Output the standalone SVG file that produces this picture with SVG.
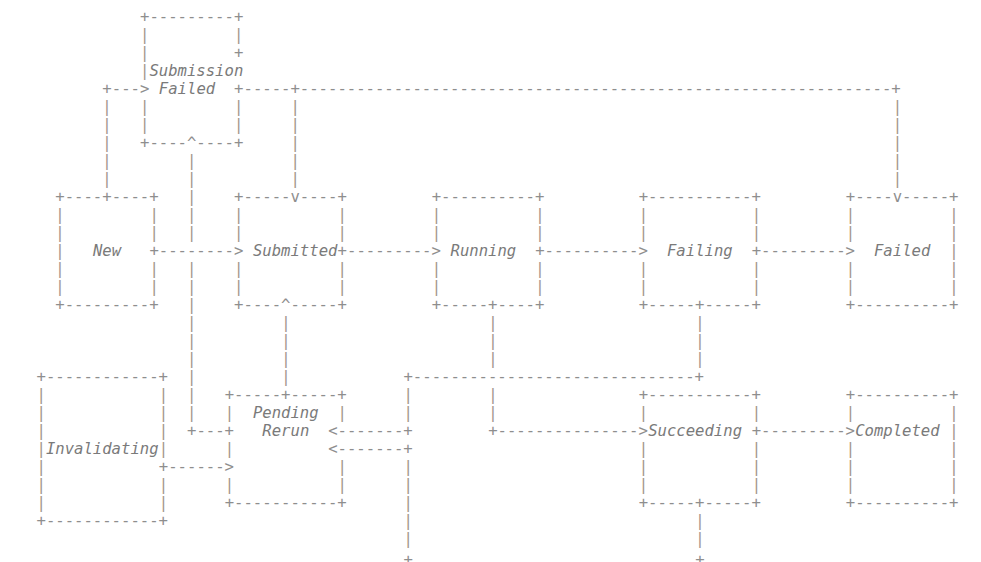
<svg xmlns="http://www.w3.org/2000/svg" width="981" height="562" viewBox="0 0 981 562">
<style>
text{font-family:"DejaVu Sans Mono","Liberation Mono",monospace;font-size:15.6px;white-space:pre}
.g{fill:#8e8e8e}
.p{fill:#a2968c}
.l{fill:#7a7a7a;font-style:italic}
</style>
<rect width="981" height="562" fill="#ffffff"/>
<g id="connectors">
<text class="g" x="102.37" y="93.8">+---&gt;</text>
<text class="g" x="234.11" y="93.8">+-----+---------------------------------------------------------------+</text>
<text class="p" x="102.37 290.57 892.81" y="111.8">|||</text>
<text class="p" x="102.37 290.57 892.81" y="129.8">|||</text>
<text class="p" x="102.37 290.57 892.81" y="147.8">|||</text>
<text class="p" x="102.37 187.06 290.57 892.81" y="165.8">||||</text>
<text class="p" x="102.37 187.06 290.57 892.81" y="183.8">||||</text>
<text class="p" x="187.06" y="201.8">|</text>
<text class="p" x="187.06" y="219.8">|</text>
<text class="p" x="187.06" y="237.8">|</text>
<text class="g" x="149.42" y="255.8">+--------&gt;</text>
<text class="g" x="337.62" y="255.8">+---------&gt;</text>
<text class="g" x="535.23" y="255.8">+----------&gt;</text>
<text class="g" x="751.66" y="255.8">+---------&gt;</text>
<text class="p" x="187.06" y="273.8">|</text>
<text class="p" x="187.06" y="291.8">|</text>
<text class="p" x="187.06" y="309.8">|</text>
<text class="p" x="187.06 281.16 488.18 695.2" y="327.8">||||</text>
<text class="p" x="187.06 281.16 488.18 695.2" y="345.8">||||</text>
<text class="p" x="187.06 281.16 488.18 695.2" y="363.8">||||</text>
<text class="p" x="187.06 281.16" y="381.8">||</text>
<text class="g" x="403.49" y="381.8">+------------------------------+</text>
<text class="p" x="187.06 403.49 488.18" y="399.8">|||</text>
<text class="p" x="187.06 403.49 488.18" y="417.8">|||</text>
<text class="g" x="187.06" y="435.8">+---+</text>
<text class="g" x="328.21" y="435.8">&lt;-------+</text>
<text class="g" x="488.18" y="435.8">+---------------&gt;</text>
<text class="g" x="751.66" y="435.8">+---------&gt;</text>
<text class="g" x="328.21" y="453.8">&lt;-------+</text>
<text class="g" x="158.83" y="471.8">+------&gt;</text>
<text class="p" x="403.49" y="471.8">|</text>
<text class="p" x="403.49" y="489.8">|</text>
<text class="p" x="403.49" y="507.8">|</text>
<text class="p" x="403.49 695.2" y="525.8">||</text>
<text class="p" x="403.49 695.2" y="543.8">||</text>
<text class="g" x="403.49 695.2" y="564.5">++</text>
</g>
<g id="submission-failed">
<text class="g" x="140.01" y="21.8">+---------+</text>
<text class="p" x="140.01 234.11" y="39.8">||</text>
<text class="p" x="140.01" y="57.8">|</text><text class="g" x="234.11" y="57.8">+</text>
<text class="p" x="140.01" y="75.8">|</text><text class="l" x="149.42" y="75.8">Submission</text>
<text class="l" x="158.83" y="93.8">Failed</text>
<text class="p" x="140.01 234.11" y="111.8">||</text>
<text class="p" x="140.01 234.11" y="129.8">||</text>
<text class="g" x="140.01" y="147.8">+----^----+</text>
</g>
<g id="new">
<text class="g" x="55.32" y="201.8">+----+----+</text>
<text class="p" x="55.32 149.42" y="219.8">||</text>
<text class="p" x="55.32 149.42" y="237.8">||</text>
<text class="p" x="55.32" y="255.8">|</text><text class="l" x="92.96" y="255.8">New</text>
<text class="p" x="55.32 149.42" y="273.8">||</text>
<text class="p" x="55.32 149.42" y="291.8">||</text>
<text class="g" x="55.32" y="309.8">+---------+</text>
</g>
<g id="submitted">
<text class="g" x="234.11" y="201.8">+-----v----+</text>
<text class="p" x="234.11 337.62" y="219.8">||</text>
<text class="p" x="234.11 337.62" y="237.8">||</text>
<text class="l" x="252.93" y="255.8">Submitted</text>
<text class="p" x="234.11 337.62" y="273.8">||</text>
<text class="p" x="234.11 337.62" y="291.8">||</text>
<text class="g" x="234.11" y="309.8">+----^-----+</text>
</g>
<g id="running">
<text class="g" x="431.72" y="201.8">+----------+</text>
<text class="p" x="431.72 535.23" y="219.8">||</text>
<text class="p" x="431.72 535.23" y="237.8">||</text>
<text class="l" x="450.54" y="255.8">Running</text>
<text class="p" x="431.72 535.23" y="273.8">||</text>
<text class="p" x="431.72 535.23" y="291.8">||</text>
<text class="g" x="431.72" y="309.8">+-----+----+</text>
</g>
<g id="failing">
<text class="g" x="638.74" y="201.8">+-----------+</text>
<text class="p" x="638.74 751.66" y="219.8">||</text>
<text class="p" x="638.74 751.66" y="237.8">||</text>
<text class="l" x="666.97" y="255.8">Failing</text>
<text class="p" x="638.74 751.66" y="273.8">||</text>
<text class="p" x="638.74 751.66" y="291.8">||</text>
<text class="g" x="638.74" y="309.8">+-----+-----+</text>
</g>
<g id="failed">
<text class="g" x="845.76" y="201.8">+----v-----+</text>
<text class="p" x="845.76 949.27" y="219.8">||</text>
<text class="p" x="845.76 949.27" y="237.8">||</text>
<text class="l" x="873.99" y="255.8">Failed</text><text class="p" x="949.27" y="255.8">|</text>
<text class="p" x="845.76 949.27" y="273.8">||</text>
<text class="p" x="845.76 949.27" y="291.8">||</text>
<text class="g" x="845.76" y="309.8">+----------+</text>
</g>
<g id="invalidating">
<text class="g" x="36.5" y="381.8">+------------+</text>
<text class="p" x="36.5 158.83" y="399.8">||</text>
<text class="p" x="36.5 158.83" y="417.8">||</text>
<text class="p" x="36.5 158.83" y="435.8">||</text>
<text class="p" x="36.5" y="453.8">|</text><text class="l" x="45.91" y="453.8">Invalidating</text><text class="p" x="158.83" y="453.8">|</text>
<text class="p" x="36.5" y="471.8">|</text>
<text class="p" x="36.5 158.83" y="489.8">||</text>
<text class="p" x="36.5 158.83" y="507.8">||</text>
<text class="g" x="36.5" y="525.8">+------------+</text>
</g>
<g id="pending-rerun">
<text class="g" x="224.7" y="399.8">+-----+-----+</text>
<text class="p" x="224.7" y="417.8">|</text><text class="l" x="252.93" y="417.8">Pending</text><text class="p" x="337.62" y="417.8">|</text>
<text class="l" x="262.34" y="435.8">Rerun</text>
<text class="p" x="224.7" y="453.8">|</text>
<text class="p" x="337.62" y="471.8">|</text>
<text class="p" x="224.7 337.62" y="489.8">||</text>
<text class="g" x="224.7" y="507.8">+-----------+</text>
</g>
<g id="succeeding">
<text class="g" x="638.74" y="399.8">+-----------+</text>
<text class="p" x="638.74 751.66" y="417.8">||</text>
<text class="l" x="648.15" y="435.8">Succeeding</text>
<text class="p" x="638.74 751.66" y="453.8">||</text>
<text class="p" x="638.74 751.66" y="471.8">||</text>
<text class="p" x="638.74 751.66" y="489.8">||</text>
<text class="g" x="638.74" y="507.8">+-----+-----+</text>
</g>
<g id="completed">
<text class="g" x="845.76" y="399.8">+----------+</text>
<text class="p" x="845.76 949.27" y="417.8">||</text>
<text class="l" x="855.17" y="435.8">Completed</text><text class="p" x="949.27" y="435.8">|</text>
<text class="p" x="845.76 949.27" y="453.8">||</text>
<text class="p" x="845.76 949.27" y="471.8">||</text>
<text class="p" x="845.76 949.27" y="489.8">||</text>
<text class="g" x="845.76" y="507.8">+----------+</text>
</g>
</svg>
